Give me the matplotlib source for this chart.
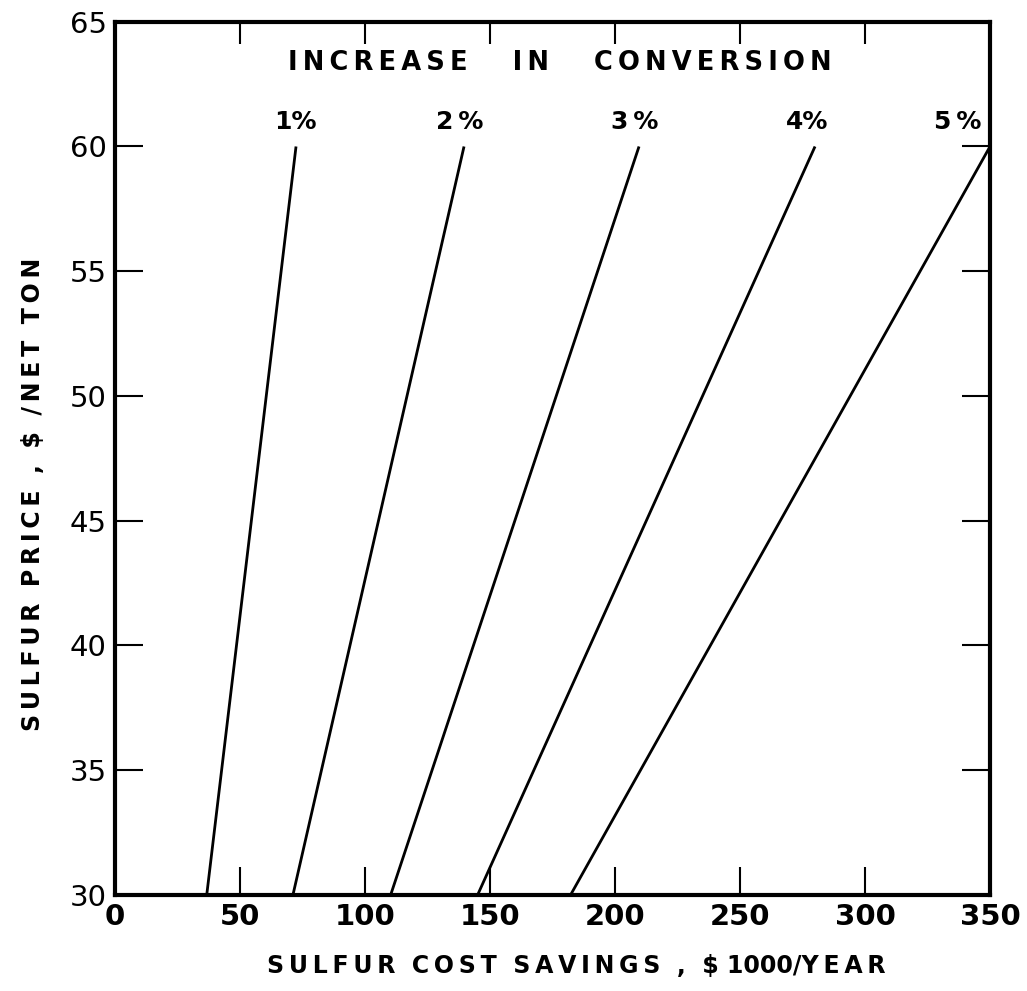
import matplotlib.pyplot as plt

conversion_labels = ['1%', '2 %', '3 %', '4%', '5 %']
price_ends = [30, 60]
savings_at_30 = [36.7, 71.2, 110.3, 145.1, 182.3]
savings_at_60 = [72.4, 139.6, 209.6, 280.0, 350.0]
label_x = [72, 138, 208, 277, 337]

x_ticks = [0, 50, 100, 150, 200, 250, 300, 350]
y_ticks = [30, 35, 40, 45, 50, 55, 60, 65]

TS = '\u2009'  # thin space for the wide lettering


def spaced(s, gap=2):
    words = s.split(' ')
    return (' ' * gap).join(TS.join(w) for w in words)


plt.rcParams['font.family'] = 'DejaVu Sans'

fig = plt.figure(figsize=(10.27, 9.91), dpi=100)
ax = fig.add_axes([0.112, 0.0973, 0.852, 0.8807])

for lab, s30, s60, lx in zip(conversion_labels, savings_at_30, savings_at_60, label_x):
    ax.plot([s30, s60], price_ends, color='black', linewidth=2.0, solid_capstyle='butt')
    ax.text(lx, 61.0, lab.replace(' ', TS), ha='center', va='center',
            fontsize=18, fontweight='bold')

ax.text(178, 63.35, spaced('INCREASE IN CONVERSION', 5),
        ha='center', va='center', fontsize=18.5, fontweight='bold')

ax.set_xlim(0, 350)
ax.set_ylim(30, 65)
ax.set_xticks(x_ticks)
ax.set_yticks(y_ticks)
ax.tick_params(direction='in', length=20, width=1.5, labelsize=21,
               top=True, right=True, pad=6)
for lbl in ax.get_xticklabels():
    lbl.set_fontweight('bold')

# corner ticks are not drawn, top ticks are a bit shorter
for t in ax.xaxis.get_major_ticks():
    t.tick2line.set_markersize(16)
for t in [ax.xaxis.get_major_ticks()[0], ax.xaxis.get_major_ticks()[-1]]:
    t.tick1line.set_visible(False)
    t.tick2line.set_visible(False)
for t in [ax.yaxis.get_major_ticks()[0], ax.yaxis.get_major_ticks()[-1]]:
    t.tick1line.set_visible(False)
    t.tick2line.set_visible(False)

for sp in ax.spines.values():
    sp.set_linewidth(3)

xlab = spaced('SULFUR COST SAVINGS ,', 2) + '  $ 1000/' + TS.join('YEAR')
ax.set_xlabel(xlab, fontsize=17, fontweight='bold')
ax.xaxis.label.set_va('center')
ax.xaxis.set_label_coords(0.527, -0.082)
ax.set_ylabel(spaced('SULFUR PRICE , $ /NET TON', 2),
              fontsize=17, fontweight='bold')
ax.yaxis.label.set_va('center')
ax.yaxis.set_label_coords(-0.094, 0.458)

fig.savefig('out.png', dpi=100)
